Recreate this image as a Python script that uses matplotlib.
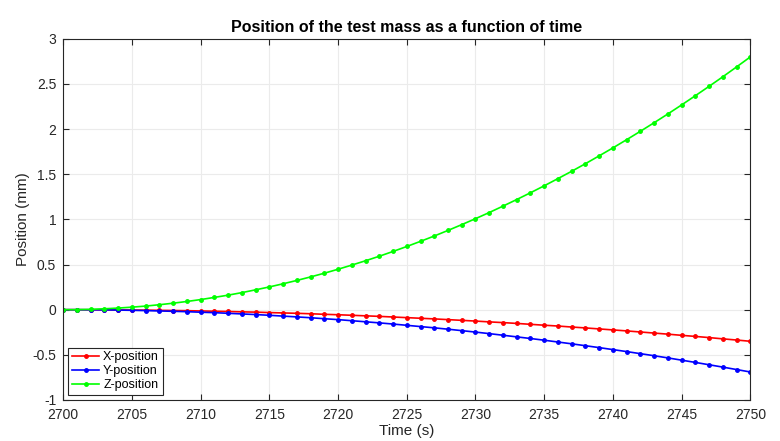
import numpy as np
import matplotlib
matplotlib.use('Agg')
import matplotlib.pyplot as plt

plt.rcParams['font.family'] = ['Liberation Sans', 'DejaVu Sans']

t = np.arange(2700, 2751)

x_pos = [0.000, 0.000, -0.001, -0.001, -0.002, -0.004, -0.005, -0.007, -0.009, -0.011,
         -0.014, -0.017, -0.020, -0.024, -0.027, -0.032, -0.036, -0.040, -0.045, -0.051,
         -0.056, -0.062, -0.068, -0.074, -0.081, -0.088, -0.095, -0.102, -0.110, -0.118,
         -0.126, -0.135, -0.143, -0.152, -0.162, -0.172, -0.181, -0.192, -0.202, -0.213,
         -0.224, -0.235, -0.247, -0.259, -0.271, -0.284, -0.296, -0.309, -0.323, -0.336,
         -0.350]
y_pos = [0.000, 0.000, -0.001, -0.002, -0.004, -0.007, -0.010, -0.014, -0.018, -0.022,
         -0.028, -0.033, -0.040, -0.047, -0.054, -0.062, -0.071, -0.080, -0.089, -0.100,
         -0.110, -0.122, -0.134, -0.146, -0.159, -0.173, -0.187, -0.201, -0.216, -0.232,
         -0.248, -0.265, -0.283, -0.301, -0.319, -0.338, -0.358, -0.378, -0.399, -0.420,
         -0.442, -0.464, -0.487, -0.510, -0.534, -0.559, -0.584, -0.610, -0.636, -0.663,
         -0.690]
z_pos = [0.000, 0.001, 0.004, 0.010, 0.018, 0.028, 0.040, 0.055, 0.072, 0.091,
         0.112, 0.136, 0.161, 0.189, 0.220, 0.252, 0.287, 0.324, 0.363, 0.404,
         0.448, 0.494, 0.542, 0.592, 0.645, 0.700, 0.757, 0.816, 0.878, 0.942,
         1.008, 1.076, 1.147, 1.220, 1.295, 1.372, 1.452, 1.533, 1.617, 1.704,
         1.792, 1.883, 1.976, 2.071, 2.168, 2.268, 2.370, 2.474, 2.580, 2.689,
         2.800]

fig = plt.figure(figsize=(7.8, 4.41), dpi=100)
ax = fig.add_axes([0.081, 0.093, 0.881, 0.819])

ax.plot(t, x_pos, '.-', color='#ff0000', lw=1.2, ms=5, label='X-position')
ax.plot(t, y_pos, '.-', color='#0000ff', lw=1.2, ms=5, label='Y-position')
ax.plot(t, z_pos, '.-', color='#00ff00', lw=1.2, ms=5, label='Z-position')

ax.set_xlim(2700, 2750)
ax.set_ylim(-1, 3)
ax.set_xticks(np.arange(2700, 2751, 5))
ax.set_yticks(np.arange(-1, 3.01, 0.5))
ax.set_yticklabels(['-1', '-0.5', '0', '0.5', '1', '1.5', '2', '2.5', '3'])
ax.grid(True, color='#ebebeb', lw=0.8)
ax.set_axisbelow(True)
ax.tick_params(direction='in', length=4, labelsize=10, colors='#262626',
               top=True, right=True)
ax.tick_params(axis='x', pad=6)
ax.tick_params(axis='y', pad=5)
for s in ax.spines.values():
    s.set_color('#262626')
    s.set_linewidth(0.8)

ax.set_xlabel('Time (s)', fontsize=11, color='#262626', labelpad=1)
ax.set_ylabel('Position (mm)', fontsize=11, color='#262626', labelpad=2)
ax.set_title('Position of the test mass as a function of time', fontsize=11.5,
             fontweight='bold', pad=5)

leg = ax.legend(loc='lower left', fontsize=9, fancybox=False, framealpha=1,
                edgecolor='#262626', borderpad=0.3, labelspacing=0.15,
                handlelength=2.2, handletextpad=0.3, borderaxespad=0.4)
leg.get_frame().set_linewidth(0.8)

fig.savefig('out.png', dpi=100)
